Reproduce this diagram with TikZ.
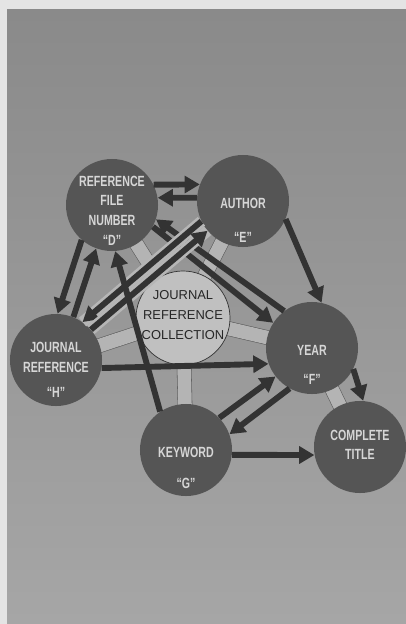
\documentclass[tikz,border=0pt]{standalone}
\usepackage{fontspec}
\setmainfont{Liberation Sans}
\newfontfamily\narrowfont[FakeStretch=0.72]{Liberation Sans}
\usepackage{xcolor}
\usetikzlibrary{arrows.meta,positioning,backgrounds}

\definecolor{papergray}{HTML}{E4E4E4}
\definecolor{bgtop}{HTML}{8A8A8A}
\definecolor{bgbottom}{HTML}{A6A6A6}
\definecolor{topicgray}{HTML}{555555}
\definecolor{capgray}{HTML}{D6D6D6}
\definecolor{arrowgray}{HTML}{333333}
\definecolor{hubgray}{HTML}{C0C0C0}
\definecolor{pipegray}{HTML}{B4B4B4}
\definecolor{halogray}{HTML}{B6B6B6}

\begin{document}
\begin{tikzpicture}[x=0.025cm, y=-0.025cm,
    topic/.style={circle, fill=topicgray, minimum size=2.3cm, inner sep=0pt},
    hub/.style={circle, draw=black!80, line width=0.5pt, fill=hubgray, minimum size=2.35cm, inner sep=0pt},
    caption/.style={text=capgray, align=center, font=\narrowfont\bfseries\fontsize{10.5}{14}\selectfont},
    hubtext/.style={text=black!85, align=center, font=\fontsize{9.2}{14}\selectfont},
    link/.style={draw=arrowgray, line width=4.2pt, -{Triangle[length=3.8mm, width=4.2mm]}},
    gap/.style={preaction={draw=halogray, line width=8pt, -}},
    pipe/.style={draw=black!65, line width=0.4pt, double=pipegray, double distance=3.4mm, shorten <=-4pt, shorten >=-4pt}]
    \useasboundingbox (0,0) rectangle (406,624);

    % the six circles
    \node[hub] (hub) at (183,318) {};
    \node[topic] (refno) at (112,205) {};
    \node[topic] (author) at (243,201) {};
    \node[topic] (jref) at (56,360) {};
    \node[topic] (year) at (312,348) {};
    \node[topic] (keyword) at (186,450) {};
    \node[topic] (title) at (360,447) {};

    \node[hubtext, yshift=2pt] (hubTxt) at (hub) {JOURNAL\\REFERENCE\\COLLECTION};
    \node[caption, yshift=-4pt] (refnoTxt) at (refno) {REFERENCE\\FILE\\NUMBER\\“D”};
    \node[caption, yshift=-14pt] (authorTxt) at (author) {AUTHOR\\[10pt]“E”};
    \node[caption, yshift=-7pt] (jrefTxt) at (jref) {JOURNAL\\REFERENCE\\[4pt]“H”};
    \node[caption, yshift=-12pt] (yearTxt) at (year) {YEAR\\[7pt]“F”};
    \node[caption, yshift=-12.5pt] (keywordTxt) at (keyword) {KEYWORD\\[8pt]“G”};
    \node[caption, yshift=1.5pt] (titleTxt) at (title) {COMPLETE\\TITLE};

    % paper and pipes behind everything
    \begin{scope}[on background layer]
        \fill[papergray] (0,0) rectangle (406,624);
        \shade[top color=bgtop, bottom color=bgbottom] (7,10) rectangle (406,624);
        \draw[pipe] (hub) -- (refno);
        \draw[pipe] (hub) -- (author);
        \draw[pipe] (hub) -- (jref);
        \draw[pipe] (hub) -- (year);
        \draw[pipe] (hub) -- (keyword);
        \draw[pipe] (year) -- (title);
    \end{scope}

    % arrows
    \draw[link] (year.127) -- (refno.-18);
    \draw[link] (refno.-28) -- (year.147);
    \draw[link, gap] (author.-154) -- (jref.55);
    \draw[link, gap] (jref.41) -- (author.-140);
    \draw[link] (refno.26) -- (author.159);
    \draw[link] (author.176) -- (refno.9);
    \draw[link] (author.-23) -- (year.78);
    \draw[link] (refno.-131) -- (jref.88);
    \draw[link] (jref.68) -- (refno.-110);
    \draw[link] (keyword.124) -- (refno.-86);
    \draw[link] (jref.-10) -- (year.-160);
    \draw[link] (keyword.44) -- (year.-142);
    \draw[link] (year.-119) -- (keyword.20);
    \draw[link] (year.-27) -- (title.86);
    \draw[link] (keyword.-6) -- (title.-170);
\end{tikzpicture}
\end{document}
